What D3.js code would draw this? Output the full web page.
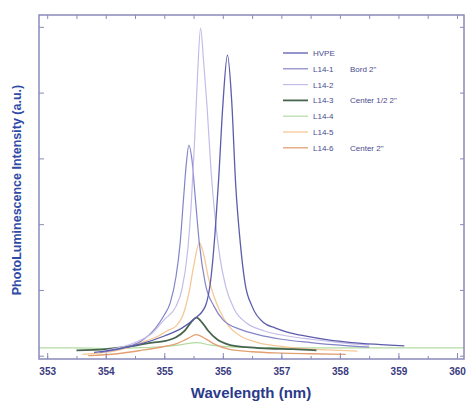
<!DOCTYPE html>
<html>
<head>
<meta charset="utf-8">
<script src="https://cdn.jsdelivr.net/npm/d3@7"></script>
<style>
  body { margin: 0; background: #fff; }
  svg { display: block; }
  text { font-family: "Liberation Sans", Arial, sans-serif; }
</style>
</head>
<body>
<svg width="468" height="401"></svg>
<script>
// tick labels
var xTicks = [353, 354, 355, 356, 357, 358, 359, 360];
var yTicks = [0, 1, 2, 3, 4, 5];

var seriesNames = ["HVPE", "L14-1", "L14-2", "L14-3", "L14-4", "L14-5", "L14-6"];
var seriesNotes = ["", "Bord 2\"", "", "Center 1/2 2\"", "", "", "Center 2\""];

// [wavelength nm, intensity a.u.]
var hvpe = [[353.8,0.05],[354.2,0.1],[354.6,0.18],[355.0,0.3],[355.3,0.42],[355.5,0.55],[355.7,0.75],
  [355.8,1.2],[355.87,1.9],[355.93,2.7],[356.0,3.8],[356.08,4.57],[356.15,3.9],[356.22,2.6],[356.3,1.7],
  [356.38,1.1],[356.5,0.75],[356.7,0.5],[356.9,0.42],[357.1,0.36],[357.4,0.3],[357.8,0.24],[358.2,0.2],
  [358.7,0.17],[359.1,0.15]];
var l141 = [[353.9,0.05],[354.3,0.12],[354.6,0.22],[354.85,0.42],[355.0,0.62],[355.1,0.8],[355.2,1.2],
  [355.27,1.7],[355.33,2.4],[355.38,2.95],[355.42,3.2],[355.47,3.0],[355.53,2.4],[355.6,1.7],[355.7,1.1],
  [355.85,0.75],[356.0,0.55],[356.3,0.4],[356.6,0.32],[357.0,0.25],[357.5,0.2],[358.0,0.16],[358.5,0.13]];
var l142 = [[354.0,0.08],[354.5,0.2],[354.8,0.35],[355.0,0.55],[355.2,0.75],[355.3,1.0],[355.4,1.6],
  [355.46,2.3],[355.52,3.3],[355.57,4.3],[355.62,4.98],[355.67,4.5],[355.73,3.8],[355.8,2.8],[355.88,2.0],
  [355.95,1.5],[356.05,1.05],[356.2,0.7],[356.4,0.5],[356.7,0.38],[357.1,0.3],[357.5,0.25],[358.0,0.2],
  [358.5,0.16]];
var l143 = [[353.5,0.08],[354.0,0.1],[354.4,0.14],[354.8,0.2],[355.0,0.22],[355.2,0.28],[355.35,0.38],
  [355.45,0.5],[355.55,0.58],[355.65,0.5],[355.75,0.38],[355.9,0.25],[356.1,0.17],[356.4,0.13],
  [356.8,0.11],[357.2,0.1],[357.6,0.08]];
var l144 = [[352.86,0.12],[353.5,0.12],[354.0,0.11],[354.5,0.12],[355.0,0.14],[355.3,0.17],[355.55,0.2],
  [355.8,0.16],[356.2,0.13],[357.0,0.12],[358.0,0.12],[359.0,0.12],[360.12,0.12]];
var l145 = [[353.6,0.02],[354.2,0.08],[354.6,0.2],[354.9,0.3],[355.05,0.38],[355.2,0.45],[355.32,0.62],
  [355.42,0.95],[355.5,1.35],[355.6,1.72],[355.67,1.55],[355.75,1.2],[355.85,0.9],[355.95,0.68],
  [356.1,0.45],[356.3,0.3],[356.6,0.2],[357.0,0.14],[357.5,0.1],[358.0,0.08],[358.3,0.07]];
var l146 = [[353.7,0.0],[354.2,0.03],[354.6,0.08],[355.0,0.14],[355.2,0.18],[355.4,0.26],[355.55,0.32],
  [355.7,0.26],[355.85,0.18],[356.1,0.1],[356.5,0.06],[357.0,0.04],[357.5,0.03],[358.1,0.02]];

var seriesData = [hvpe, l141, l142, l143, l144, l145, l146];
var colors = ["#5c5cac", "#8484c8", "#c4bce8", "#46644e", "#b2dca2", "#f6c898", "#e2a072"];
var widths = [1.3, 1.2, 1.2, 1.8, 1.2, 1.3, 1.3];

var svg = d3.select("svg"),
    plotL = 39, plotR = 464, plotT = 15, plotB = 359;

var x = d3.scaleLinear().domain([352.86, 360.12]).range([plotL, plotR]);
var y = d3.scaleLinear().domain([-0.05, 5.18]).range([plotB, plotT]);

var g = svg.append("g");

var line = d3.line()
    .x(function(d) { return x(d[0]); })
    .y(function(d) { return y(d[1]); })
    .curve(d3.curveMonotoneX);

// lines, draw lower ones first
[4, 6, 5, 3, 1, 2, 0].forEach(function(i) {
    g.append("path")
        .datum(seriesData[i])
        .attr("fill", "none")
        .attr("stroke", colors[i])
        .attr("stroke-width", widths[i])
        .attr("d", line);
});

var frameColor = "#8a8abb";
var minorX = d3.range(353, 360.01, 0.5);

// bottom & top axes, ticks inward
g.append("g")
    .attr("transform", "translate(0," + plotB + ")")
    .call(d3.axisBottom(x).tickValues(xTicks).tickSize(-6).tickFormat(d3.format("d")).tickPadding(9))
    .call(function(a) {
        a.select(".domain").remove();
        a.selectAll("line").attr("stroke", frameColor);
        a.selectAll("text").attr("font-size", 10).attr("font-weight", "bold").attr("fill", "#3a3a80");
    });
g.append("g")
    .attr("transform", "translate(0," + plotB + ")")
    .call(d3.axisBottom(x).tickValues(minorX).tickSize(-3).tickFormat(""))
    .call(function(a) { a.select(".domain").remove(); a.selectAll("line").attr("stroke", frameColor); });
g.append("g")
    .attr("transform", "translate(0," + plotT + ")")
    .call(d3.axisTop(x).tickValues(minorX).tickSize(-4).tickFormat(""))
    .call(function(a) { a.select(".domain").remove(); a.selectAll("line").attr("stroke", frameColor); });

// left & right axes
g.append("g")
    .attr("transform", "translate(" + plotL + ",0)")
    .call(d3.axisLeft(y).tickValues(yTicks).tickSize(-5).tickFormat(""))
    .call(function(a) { a.select(".domain").remove(); a.selectAll("line").attr("stroke", frameColor); });
g.append("g")
    .attr("transform", "translate(" + plotR + ",0)")
    .call(d3.axisRight(y).tickValues(yTicks).tickSize(-4).tickFormat(""))
    .call(function(a) { a.select(".domain").remove(); a.selectAll("line").attr("stroke", frameColor); });

// frame
g.append("rect")
    .attr("x", plotL).attr("y", plotT)
    .attr("width", plotR - plotL).attr("height", plotB - plotT)
    .attr("fill", "none")
    .attr("stroke", frameColor)
    .attr("stroke-width", 1.5);

// legend
var legend = g.append("g").attr("transform", "translate(283,53)");
seriesNames.forEach(function(name, i) {
    var row = legend.append("g").attr("transform", "translate(0," + (i * 15.8) + ")");
    row.append("line")
        .attr("x1", 0).attr("x2", 25)
        .attr("stroke", colors[i])
        .attr("stroke-width", widths[i]);
    row.append("text")
        .attr("x", 30).attr("y", 3)
        .attr("font-size", 8)
        .attr("fill", "#4a4a90")
        .text(name);
    if (seriesNotes[i]) {
        row.append("text")
            .attr("x", 67).attr("y", 3)
            .attr("font-size", 8)
            .attr("fill", "#4a4a90")
            .text(seriesNotes[i]);
    }
});

// axis titles
svg.append("text")
    .attr("x", 251).attr("y", 398)
    .attr("text-anchor", "middle")
    .attr("font-size", 15)
    .attr("font-weight", "bold")
    .attr("fill", "#2a3a8a")
    .text("Wavelength (nm)");

svg.append("text")
    .attr("transform", "translate(21,190) rotate(-90)")
    .attr("text-anchor", "middle")
    .attr("font-size", 12.5)
    .attr("font-weight", "bold")
    .attr("fill", "#2e4aa6")
    .text("PhotoLuminescence Intensity (a.u.)");
</script>
</body>
</html>
